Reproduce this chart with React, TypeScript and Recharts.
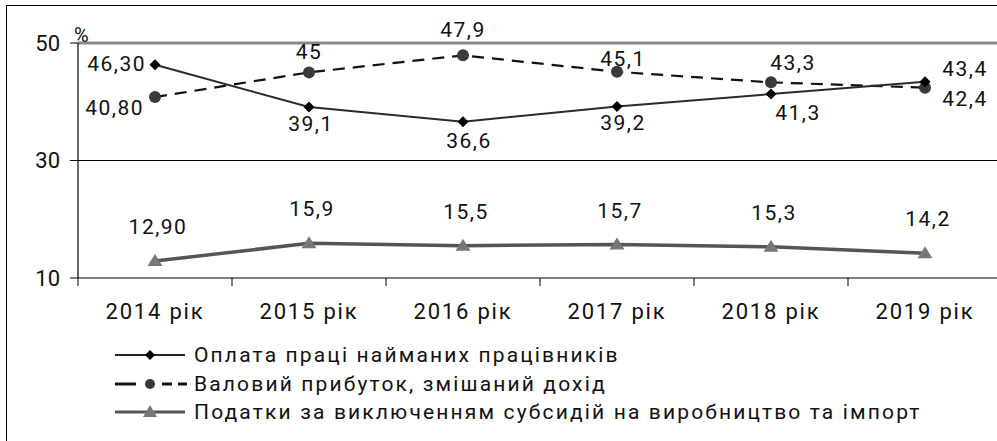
import React from 'react';
import {
  LineChart,
  Line,
  XAxis,
  YAxis,
  ReferenceLine,
} from 'recharts';

const years = ['2014 рік', '2015 рік', '2016 рік', '2017 рік', '2018 рік', '2019 рік'];

// Оплата праці найманих працівників
const payValues = [46.3, 39.1, 36.6, 39.2, 41.3, 43.4];
const payLabels = ['46,30', '39,1', '36,6', '39,2', '41,3', '43,4'];

// Валовий прибуток, змішаний дохід
const grossValues = [40.8, 45, 47.9, 45.1, 43.3, 42.4];
const grossLabels = ['40,80', '45', '47,9', '45,1', '43,3', '42,4'];

// Податки за виключенням субсидій на виробництво та імпорт
const taxValues = [12.9, 15.9, 15.5, 15.7, 15.3, 14.2];
const taxLabels = ['12,90', '15,9', '15,5', '15,7', '15,3', '14,2'];

const yTicks = [10, 30, 50];

const seriesNames = [
  'Оплата праці найманих працівників',
  'Валовий прибуток, змішаний дохід',
  'Податки за виключенням субсидій на виробництво та імпорт',
];

const chartData = years.map((year, i) => ({
  year,
  pay: payValues[i],
  gross: grossValues[i],
  tax: taxValues[i],
}));

// label placement per point: [dx, dy, anchor]
type Place = [number, number, 'start' | 'middle' | 'end'];
const payPlace: Place[] = [
  [-9, -1, 'end'],
  [2, 17, 'middle'],
  [6, 19, 'middle'],
  [6, 17, 'middle'],
  [27, 19, 'middle'],
  [40, -13, 'middle'],
];
const grossPlace: Place[] = [
  [-11, 11, 'end'],
  [0, -20, 'middle'],
  [0, -25, 'middle'],
  [6, -13, 'middle'],
  [22, -19, 'middle'],
  [40, 11, 'middle'],
];
const taxPlace: Place[] = years.map(() => [3, -34, 'middle'] as Place);

const CHART_W = 1002;
const CHART_H = 441;
const Y_AXIS_W = 78;
const PLOT_W = CHART_W - Y_AXIS_W;
const numFont = 'Roboto, "DejaVu Sans", sans-serif';

const makeLabel = (texts: string[], places: Place[]) => (props: any) => {
  const { x, y, index } = props;
  const [dx, dy, anchor] = places[index];
  return (
    <text
      key={`l-${index}`}
      x={x + dx}
      y={y + dy}
      textAnchor={anchor}
      dominantBaseline="central"
      fontFamily={numFont}
      fontSize={21}
      letterSpacing={1.5}
      fill="#111"
    >
      {texts[index]}
    </text>
  );
};

const Diamond = (props: any) => {
  const { cx, cy, index } = props;
  const s = 5.5;
  return (
    <path
      key={`d-${index}`}
      d={`M${cx},${cy - s} L${cx + s},${cy} L${cx},${cy + s} L${cx - s},${cy} Z`}
      fill="#000"
    />
  );
};

const Dot = (props: any) => {
  const { cx, cy, index } = props;
  return <circle key={`c-${index}`} cx={cx} cy={cy} r={6} fill="#3a3a3a" />;
};

const Triangle = (props: any) => {
  const { cx, cy, index } = props;
  return (
    <path
      key={`t-${index}`}
      d={`M${cx},${cy - 7} L${cx + 7.5},${cy + 5} L${cx - 7.5},${cy + 5} Z`}
      fill="#777"
    />
  );
};

const CategoryTick = (props: any) => {
  const { x, y, payload } = props;
  const half = PLOT_W / years.length / 2;
  return (
    <g>
      <line x1={x - half} y1={y} x2={x - half} y2={y + 8} stroke="#000" strokeWidth={1} />
      <text
        x={x}
        y={y + 41}
        textAnchor="middle"
        fontFamily={numFont}
        fontSize={22}
        letterSpacing={1.8}
        fill="#111"
      >
        {payload.value}
      </text>
    </g>
  );
};

const LegendIcon = ({ kind }: { kind: number }) => (
  <svg width={72} height={24} style={{ display: 'block' }}>
    {kind === 0 && (
      <>
        <line x1={0} y1={12} x2={70} y2={12} stroke="#222" strokeWidth={2} />
        <path d="M35,7 L40,12 L35,17 L30,12 Z" fill="#000" />
      </>
    )}
    {kind === 1 && (
      <>
        <line x1={0} y1={12} x2={21} y2={12} stroke="#111" strokeWidth={3} />
        <line x1={47} y1={12} x2={57} y2={12} stroke="#111" strokeWidth={3} />
        <line x1={63} y1={12} x2={72} y2={12} stroke="#111" strokeWidth={3} />
        <circle cx={35} cy={12} r={5} fill="#3a3a3a" />
      </>
    )}
    {kind === 2 && (
      <>
        <line x1={0} y1={12} x2={70} y2={12} stroke="#555" strokeWidth={3} />
        <path d="M35,5 L42,17 L28,17 Z" fill="#777" />
      </>
    )}
  </svg>
);

export default function App() {
  return (
    <div
      style={{
        position: 'absolute',
        left: 0,
        top: 0,
        width: 997,
        height: 441,
        overflow: 'hidden',
        background: '#fff',
      }}
    >
      <div
        style={{
          position: 'absolute',
          left: 6,
          top: 5,
          width: 1100,
          height: 500,
          borderTop: '1.5px solid #000',
          borderLeft: '1.5px solid #000',
        }}
      />
      <div style={{ position: 'absolute', left: 0, top: 0 }}>
        <LineChart
          width={CHART_W}
          height={CHART_H}
          data={chartData}
          margin={{ top: 43, right: 0, bottom: 123, left: 0 }}
        >
          <XAxis
            dataKey="year"
            scale="band"
            height={40}
            axisLine={{ stroke: '#000', strokeWidth: 1.2 }}
            tickLine={false}
            tickSize={0}
            tickMargin={0}
            tick={<CategoryTick />}
            interval={0}
          />
          <YAxis
            width={Y_AXIS_W}
            domain={[10, 50]}
            ticks={yTicks}
            interval={0}
            axisLine={{ stroke: '#000', strokeWidth: 1.2 }}
            tickLine={{ stroke: '#000', strokeWidth: 1 }}
            tickSize={8}
            tickMargin={10}
            tick={{ fontFamily: numFont, fontSize: 22, fill: '#111' }}
          />
          <ReferenceLine y={50} stroke="#888" strokeWidth={3} />
          <ReferenceLine y={30} stroke="#000" strokeWidth={1} />
          <Line
            dataKey="tax"
            name={seriesNames[2]}
            stroke="#555"
            strokeWidth={3.5}
            dot={Triangle}
            label={makeLabel(taxLabels, taxPlace)}
            isAnimationActive={false}
          />
          <Line
            dataKey="gross"
            name={seriesNames[1]}
            stroke="#111"
            strokeWidth={2.2}
            strokeDasharray="12 8"
            dot={Dot}
            label={makeLabel(grossLabels, grossPlace)}
            isAnimationActive={false}
          />
          <Line
            dataKey="pay"
            name={seriesNames[0]}
            stroke="#2a2a2a"
            strokeWidth={2}
            dot={Diamond}
            label={makeLabel(payLabels, payPlace)}
            isAnimationActive={false}
          />
        </LineChart>
      </div>
      <div
        style={{
          position: 'absolute',
          left: 74,
          top: 23,
          fontFamily: numFont,
          fontSize: 20,
          color: '#111',
        }}
      >
        %
      </div>
      <div style={{ position: 'absolute', left: 115, top: 341 }}>
        {seriesNames.map((name, i) => (
          <div
            key={name}
            style={{ display: 'flex', alignItems: 'center', height: 28.5 }}
          >
            <LegendIcon kind={i} />
            <span
              style={{
                marginLeft: 7,
                fontFamily: 'Roboto, sans-serif',
                fontSize: 21,
                letterSpacing: 2.15,
                color: '#111',
                whiteSpace: 'nowrap',
              }}
            >
              {name}
            </span>
          </div>
        ))}
      </div>
    </div>
  );
}
